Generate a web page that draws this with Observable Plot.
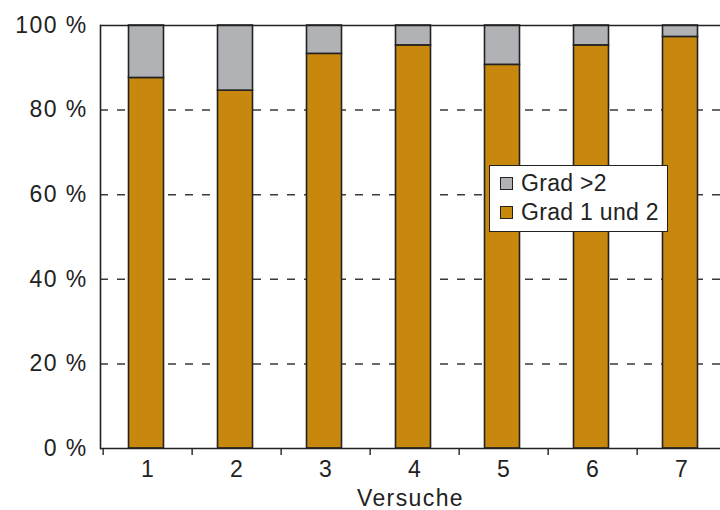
<!DOCTYPE html>
<html><head><meta charset="utf-8">
<script src="https://cdn.jsdelivr.net/npm/d3@7"></script>
<script src="https://cdn.jsdelivr.net/npm/@observablehq/plot@0.6"></script>
<style>
html,body{margin:0;padding:0;overflow:hidden;background:#fff;}
#wrap{position:relative;width:720px;height:510px;}
#wrap svg text{letter-spacing:1.4px;word-spacing:0px;}
.legend{position:absolute;left:489px;top:165px;width:177px;height:65px;border:1.5px solid #222;background:#fff;
  font-family:"Liberation Sans",Arial,Helvetica,sans-serif;font-size:23px;color:#222;letter-spacing:0.3px;}
.legend .item{position:absolute;left:10px;height:26px;line-height:26px;white-space:nowrap;}
.legend .sw{display:inline-block;width:11px;height:11px;border:1.5px solid #222;margin-right:8px;vertical-align:1px;}
</style>
</head><body>
<div id="wrap"></div>
<script>
const versuche = ["1", "2", "3", "4", "5", "6", "7"];
const grad12 = [87.6, 84.6, 93.3, 95.3, 90.7, 95.3, 97.3];
const gradGt2 = [12.4, 15.4, 6.7, 4.7, 9.3, 4.7, 2.7];
const serien = ["Grad 1 und 2", "Grad >2"];
const farben = ["#C8870D", "#B1B2B5"];
const yTicks = [0, 20, 40, 60, 80, 100];
const gridTicks = [20, 40, 60, 80];

const data = [];
versuche.forEach((v, i) => {
  data.push({versuch: v, serie: serien[0], wert: grad12[i]});
  data.push({versuch: v, serie: serien[1], wert: gradGt2[i]});
});

const xRange = [100, 728];
const step = (xRange[1] - xRange[0]) / versuche.length;

const chart = Plot.plot({
  width: 720,
  height: 510,
  marginLeft: 100,
  marginRight: 0,
  marginTop: 25,
  marginBottom: 62,
  style: {fontFamily: "Liberation Sans, Arial, Helvetica, sans-serif", fontSize: "23px", color: "#222", background: "#fff"},
  x: {type: "band", domain: versuche, range: xRange, paddingInner: 0.61, paddingOuter: 0.305, label: null},
  y: {domain: [0, 100], label: null},
  color: {domain: serien, range: farben},
  marks: [
    Plot.gridY(gridTicks, {stroke: "#3a3a3a", strokeOpacity: 1, strokeWidth: 1.5, strokeDasharray: "8,9"}),
    Plot.barY(data, {x: "versuch", y: "wert", fill: "serie", order: serien, stroke: "#222", strokeWidth: 1.6, dx: -1.5}),
    Plot.ruleY([0, 100], {stroke: "#222", strokeWidth: 1.6}),
    Plot.frame({anchor: "left", stroke: "#222", strokeWidth: 1.6}),
    Plot.axisY({ticks: yTicks, tickSize: 0, tickPadding: 13, tickFormat: d => d + " %", fill: "#222", label: null}),
    Plot.axisX({tickSize: 7, tickFormat: () => "", dx: -step / 2, stroke: "#222", strokeWidth: 1.4, label: null}),
    Plot.axisX({tickSize: 0, tickPadding: 12, fill: "#222", label: "Versuche", labelAnchor: "center", labelOffset: 57, labelArrow: "none"})
  ]
});
const wrap = document.getElementById("wrap");
wrap.appendChild(chart);

const legend = document.createElement("div");
legend.className = "legend";
[[serien[1], farben[1], 4], [serien[0], farben[0], 33]].forEach(([name, col, top]) => {
  const it = document.createElement("div");
  it.className = "item";
  it.style.top = top + "px";
  const sw = document.createElement("span");
  sw.className = "sw";
  sw.style.background = col;
  it.appendChild(sw);
  it.appendChild(document.createTextNode(name));
  legend.appendChild(it);
});
wrap.appendChild(legend);
</script>
</body></html>
